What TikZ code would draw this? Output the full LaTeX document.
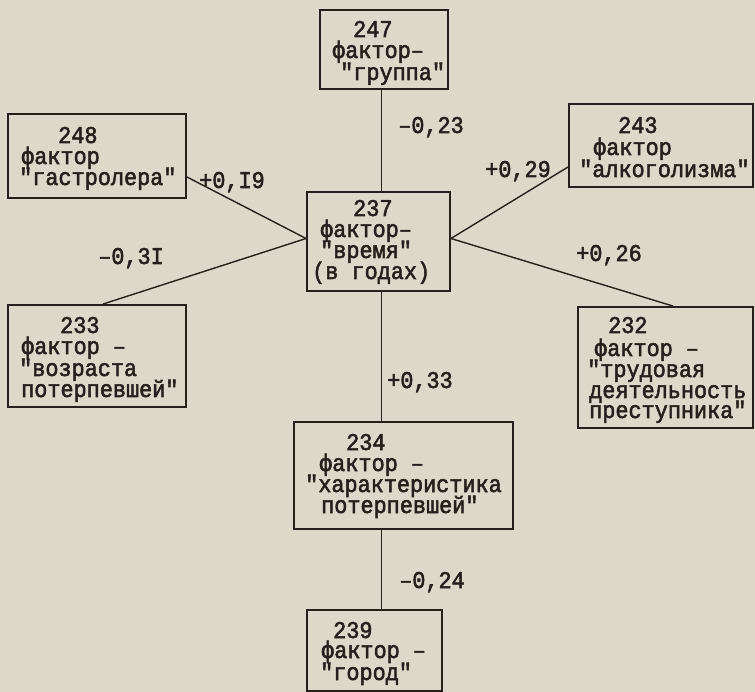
\documentclass[tikz,border=0pt]{standalone}
\usepackage{fontspec}
\newfontfamily\tw[FakeStretch=0.91,FakeBold=2.2,Ligatures=TeXOff]{Liberation Mono}
\definecolor{paper}{RGB}{221,217,202}
\definecolor{ink}{RGB}{38,32,28}
\begin{document}
\begin{tikzpicture}[x=1pt,y=-1pt,
  box/.style={draw=ink,line width=1.9pt,inner sep=0pt},
  txt/.style={anchor=base west,inner sep=0pt,text height=14pt,text depth=3pt,text=ink,font=\tw\fontsize{24}{21}\selectfont},
  lab/.style={anchor=base,inner sep=0pt,text height=14pt,text depth=3pt,text=ink,font=\tw\fontsize{24}{21}\selectfont},
  conn/.style={draw=ink,line width=1.4pt}]
\fill[paper] (0,0) rectangle (755,692);
\useasboundingbox (0,0) rectangle (755,692);
\clip (0,0) rectangle (755,692);

% boxes
\node[box,minimum width=128pt,minimum height=79pt]  (b247) at (384,49.5) {};
\node[box,minimum width=178pt,minimum height=84pt]  (b248) at (97,156) {};
\node[box,minimum width=184pt,minimum height=83pt]  (b243) at (661,145.5) {};
\node[box,minimum width=143pt,minimum height=99pt]  (b237) at (378.5,241.5) {};
\node[box,minimum width=178pt,minimum height=102pt] (b233) at (97,356) {};
\node[box,minimum width=175pt,minimum height=121pt] (b232) at (665.5,367.5) {};
\node[box,minimum width=219pt,minimum height=107pt] (b234) at (403.5,475.5) {};
\node[box,minimum width=135pt,minimum height=81pt]  (b239) at (374.5,650.5) {};
\coordinate (axis) at (381.5,0);

% texts
\node[txt] (t247a) at (353,37) {247};
\node[txt] (t247b) at (332,58) {фактор–};
\node[txt] (t247c) at (340,80) {"группа"};

\node[txt] (t248a) at (58,143) {248};
\node[txt] (t248b) at (21,164) {фактор};
\node[txt] (t248c) at (19,185) {"гастролера"};

\node[txt] (t243a) at (618,133) {243};
\node[txt] (t243b) at (593,155) {фактор};
\node[txt] (t243c) at (579,177) {"алкоголизма"};

\node[txt] (t237a) at (353,216) {237};
\node[txt] (t237b) at (320,237) {фактор–};
\node[txt] (t237c) at (320,258) {"время"};
\node[txt] (t237d) at (312,279) {(в годах)};

\node[txt] (t233a) at (60,333) {233};
\node[txt] (t233b) at (21,354) {фактор –};
\node[txt] (t233c) at (19,376) {"возраста};
\node[txt] (t233d) at (21,397) {потерпевшей"};

\node[txt] (t232a) at (608,333) {232};
\node[txt] (t232b) at (594,356) {фактор –};
\node[txt] (t232c) at (587,377) {"трудовая};
\node[txt] (t232d) at (589,398) {деятельность};
\node[txt] (t232e) at (589,418) {преступника"};

\node[txt] (t234a) at (346,450) {234};
\node[txt] (t234b) at (319,471) {фактор –};
\node[txt] (t234c) at (305,492) {"характеристика};
\node[txt] (t234d) at (321,513) {потерпевшей"};

\node[txt] (t239a) at (333,638) {239};
\node[txt] (t239b) at (321,658) {фактор –};
\node[txt] (t239c) at (320,680) {"город"};

% connectors
\draw[conn] (b247.south -| axis) -- (b237.north -| axis);
\draw[conn] (b237.south -| axis) -- (b234.north -| axis);
\draw[conn] (b234.south -| axis) -- (b239.north -| axis);
\draw[conn] ([yshift=-21pt]b248.east) -- ([yshift=3pt]b237.west);
\draw[conn] ([xshift=6pt]b233.north) -- ([yshift=3pt]b237.west);
\draw[conn] ([yshift=-21.5pt]b243.west) -- ([yshift=3pt]b237.east);
\draw[conn] ([xshift=7.5pt]b232.north) -- ([yshift=3pt]b237.east);

% labels
\node[lab] (l23) at (431,133) {–0,23};
\node[lab] (l19) at (232,188) {+0,I9};
\node[lab] (l29) at (518,177) {+0,29};
\node[lab] (l31) at (131,264) {–0,3I};
\node[lab] (l26) at (609,261) {+0,26};
\node[lab] (l33) at (420,388) {+0,33};
\node[lab] (l24) at (432,588) {–0,24};
\end{tikzpicture}
\end{document}
